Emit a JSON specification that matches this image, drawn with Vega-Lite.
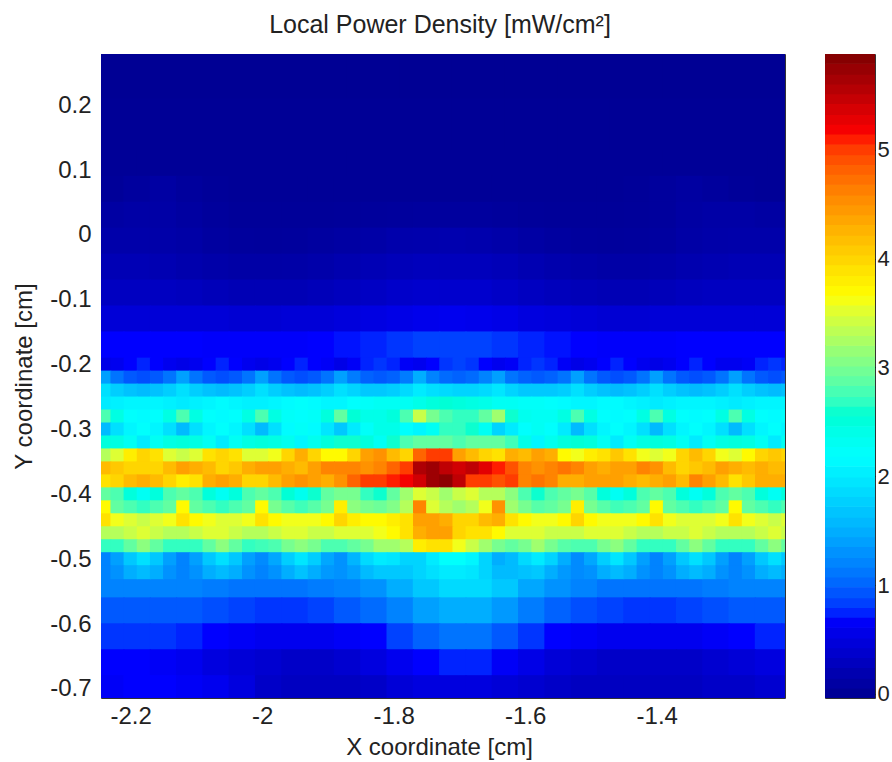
{"$schema":"https://vega.github.io/schema/vega-lite/v6.json","background":"white","padding":{"left":12,"top":12,"right":0,"bottom":0},"spacing":38,
"config":{"view":{"stroke":"#333333","strokeWidth":1},"font":"Liberation Sans","axis":{"grid":false,"domain":false,"labelFont":"Liberation Sans","titleFont":"Liberation Sans","labelFontSize":24,"titleFontSize":24,"titleFontWeight":"normal","labelColor":"#222222","titleColor":"#222222"}},
"datasets":{
"top":[{"x":-2.21,"y":0.25,"v":0},{"x":-2.13,"y":0.25,"v":0},{"x":-2.05,"y":0.25,"v":0},{"x":-1.97,"y":0.25,"v":0},{"x":-1.89,"y":0.25,"v":0},{"x":-1.81,"y":0.25,"v":0},{"x":-1.73,"y":0.25,"v":0},{"x":-1.65,"y":0.25,"v":0},{"x":-1.57,"y":0.25,"v":0},{"x":-1.49,"y":0.25,"v":0},{"x":-1.41,"y":0.25,"v":0},{"x":-1.33,"y":0.25,"v":0},{"x":-1.25,"y":0.25,"v":0},{"x":-1.17,"y":0.25,"v":0},
{"x":-2.21,"y":0.17,"v":0.01},{"x":-2.13,"y":0.17,"v":0.01},{"x":-2.05,"y":0.17,"v":0.01},{"x":-1.97,"y":0.17,"v":0.01},{"x":-1.89,"y":0.17,"v":0.01},{"x":-1.81,"y":0.17,"v":0.01},{"x":-1.73,"y":0.17,"v":0.01},{"x":-1.65,"y":0.17,"v":0.01},{"x":-1.57,"y":0.17,"v":0.01},{"x":-1.49,"y":0.17,"v":0.01},{"x":-1.41,"y":0.17,"v":0.01},{"x":-1.33,"y":0.17,"v":0.01},{"x":-1.25,"y":0.17,"v":0.01},{"x":-1.17,"y":0.17,"v":0.01},
{"x":-2.21,"y":0.09,"v":0.02},{"x":-2.13,"y":0.09,"v":0.02},{"x":-2.05,"y":0.09,"v":0.02},{"x":-1.97,"y":0.09,"v":0.02},{"x":-1.89,"y":0.09,"v":0.02},{"x":-1.81,"y":0.09,"v":0.02},{"x":-1.73,"y":0.09,"v":0.02},{"x":-1.65,"y":0.09,"v":0.02},{"x":-1.57,"y":0.09,"v":0.02},{"x":-1.49,"y":0.09,"v":0.02},{"x":-1.41,"y":0.09,"v":0.02},{"x":-1.33,"y":0.09,"v":0.02},{"x":-1.25,"y":0.09,"v":0.02},{"x":-1.17,"y":0.09,"v":0.02}],
"mid":[
{"x":-2.23,"y":0.07,"v":0.03},{"x":-2.19,"y":0.07,"v":0.07},{"x":-2.15,"y":0.07,"v":0.1},{"x":-2.11,"y":0.07,"v":0.06},{"x":-2.07,"y":0.07,"v":0.03},{"x":-2.03,"y":0.07,"v":0.02},{"x":-1.99,"y":0.07,"v":0.02},{"x":-1.95,"y":0.07,"v":0.02},{"x":-1.91,"y":0.07,"v":0.02},{"x":-1.87,"y":0.07,"v":0.02},{"x":-1.83,"y":0.07,"v":0.02},{"x":-1.79,"y":0.07,"v":0.02},{"x":-1.75,"y":0.07,"v":0.02},{"x":-1.71,"y":0.07,"v":0.02},{"x":-1.67,"y":0.07,"v":0.02},{"x":-1.63,"y":0.07,"v":0.02},{"x":-1.59,"y":0.07,"v":0.02},{"x":-1.55,"y":0.07,"v":0.02},{"x":-1.51,"y":0.07,"v":0.02},{"x":-1.47,"y":0.07,"v":0.02},{"x":-1.43,"y":0.07,"v":0.03},{"x":-1.39,"y":0.07,"v":0.06},{"x":-1.35,"y":0.07,"v":0.09},{"x":-1.31,"y":0.07,"v":0.06},{"x":-1.27,"y":0.07,"v":0.03},{"x":-1.23,"y":0.07,"v":0.02},{"x":-1.19,"y":0.07,"v":0.02},
{"x":-2.23,"y":0.03,"v":0.1},{"x":-2.19,"y":0.03,"v":0.12},{"x":-2.15,"y":0.03,"v":0.12},{"x":-2.11,"y":0.03,"v":0.09},{"x":-2.07,"y":0.03,"v":0.05},{"x":-2.03,"y":0.03,"v":0.03},{"x":-1.99,"y":0.03,"v":0.03},{"x":-1.95,"y":0.03,"v":0.03},{"x":-1.91,"y":0.03,"v":0.03},{"x":-1.87,"y":0.03,"v":0.04},{"x":-1.83,"y":0.03,"v":0.05},{"x":-1.79,"y":0.03,"v":0.06},{"x":-1.75,"y":0.03,"v":0.07},{"x":-1.71,"y":0.03,"v":0.07},{"x":-1.67,"y":0.03,"v":0.07},{"x":-1.63,"y":0.03,"v":0.05},{"x":-1.59,"y":0.03,"v":0.04},{"x":-1.55,"y":0.03,"v":0.03},{"x":-1.51,"y":0.03,"v":0.03},{"x":-1.47,"y":0.03,"v":0.03},{"x":-1.43,"y":0.03,"v":0.04},{"x":-1.39,"y":0.03,"v":0.06},{"x":-1.35,"y":0.03,"v":0.1},{"x":-1.31,"y":0.03,"v":0.12},{"x":-1.27,"y":0.03,"v":0.12},{"x":-1.23,"y":0.03,"v":0.1},{"x":-1.19,"y":0.03,"v":0.09},
{"x":-2.23,"y":-0.01,"v":0.15},{"x":-2.19,"y":-0.01,"v":0.15},{"x":-2.15,"y":-0.01,"v":0.14},{"x":-2.11,"y":-0.01,"v":0.12},{"x":-2.07,"y":-0.01,"v":0.08},{"x":-2.03,"y":-0.01,"v":0.06},{"x":-1.99,"y":-0.01,"v":0.05},{"x":-1.95,"y":-0.01,"v":0.06},{"x":-1.91,"y":-0.01,"v":0.08},{"x":-1.87,"y":-0.01,"v":0.1},{"x":-1.83,"y":-0.01,"v":0.13},{"x":-1.79,"y":-0.01,"v":0.16},{"x":-1.75,"y":-0.01,"v":0.17},{"x":-1.71,"y":-0.01,"v":0.18},{"x":-1.67,"y":-0.01,"v":0.17},{"x":-1.63,"y":-0.01,"v":0.14},{"x":-1.59,"y":-0.01,"v":0.11},{"x":-1.55,"y":-0.01,"v":0.08},{"x":-1.51,"y":-0.01,"v":0.06},{"x":-1.47,"y":-0.01,"v":0.05},{"x":-1.43,"y":-0.01,"v":0.06},{"x":-1.39,"y":-0.01,"v":0.08},{"x":-1.35,"y":-0.01,"v":0.12},{"x":-1.31,"y":-0.01,"v":0.14},{"x":-1.27,"y":-0.01,"v":0.15},{"x":-1.23,"y":-0.01,"v":0.15},{"x":-1.19,"y":-0.01,"v":0.15},
{"x":-2.23,"y":-0.05,"v":0.22},{"x":-2.19,"y":-0.05,"v":0.22},{"x":-2.15,"y":-0.05,"v":0.2},{"x":-2.11,"y":-0.05,"v":0.17},{"x":-2.07,"y":-0.05,"v":0.14},{"x":-2.03,"y":-0.05,"v":0.12},{"x":-1.99,"y":-0.05,"v":0.12},{"x":-1.95,"y":-0.05,"v":0.13},{"x":-1.91,"y":-0.05,"v":0.15},{"x":-1.87,"y":-0.05,"v":0.18},{"x":-1.83,"y":-0.05,"v":0.22},{"x":-1.79,"y":-0.05,"v":0.25},{"x":-1.75,"y":-0.05,"v":0.27},{"x":-1.71,"y":-0.05,"v":0.27},{"x":-1.67,"y":-0.05,"v":0.27},{"x":-1.63,"y":-0.05,"v":0.24},{"x":-1.59,"y":-0.05,"v":0.2},{"x":-1.55,"y":-0.05,"v":0.17},{"x":-1.51,"y":-0.05,"v":0.14},{"x":-1.47,"y":-0.05,"v":0.12},{"x":-1.43,"y":-0.05,"v":0.12},{"x":-1.39,"y":-0.05,"v":0.15},{"x":-1.35,"y":-0.05,"v":0.18},{"x":-1.31,"y":-0.05,"v":0.2},{"x":-1.27,"y":-0.05,"v":0.22},{"x":-1.23,"y":-0.05,"v":0.22},{"x":-1.19,"y":-0.05,"v":0.22},
{"x":-2.23,"y":-0.09,"v":0.3},{"x":-2.19,"y":-0.09,"v":0.3},{"x":-2.15,"y":-0.09,"v":0.3},{"x":-2.11,"y":-0.09,"v":0.28},{"x":-2.07,"y":-0.09,"v":0.25},{"x":-2.03,"y":-0.09,"v":0.22},{"x":-1.99,"y":-0.09,"v":0.22},{"x":-1.95,"y":-0.09,"v":0.22},{"x":-1.91,"y":-0.09,"v":0.25},{"x":-1.87,"y":-0.09,"v":0.28},{"x":-1.83,"y":-0.09,"v":0.32},{"x":-1.79,"y":-0.09,"v":0.36},{"x":-1.75,"y":-0.09,"v":0.38},{"x":-1.71,"y":-0.09,"v":0.38},{"x":-1.67,"y":-0.09,"v":0.38},{"x":-1.63,"y":-0.09,"v":0.34},{"x":-1.59,"y":-0.09,"v":0.3},{"x":-1.55,"y":-0.09,"v":0.27},{"x":-1.51,"y":-0.09,"v":0.24},{"x":-1.47,"y":-0.09,"v":0.22},{"x":-1.43,"y":-0.09,"v":0.22},{"x":-1.39,"y":-0.09,"v":0.25},{"x":-1.35,"y":-0.09,"v":0.28},{"x":-1.31,"y":-0.09,"v":0.3},{"x":-1.27,"y":-0.09,"v":0.3},{"x":-1.23,"y":-0.09,"v":0.3},{"x":-1.19,"y":-0.09,"v":0.3},
{"x":-2.23,"y":-0.13,"v":0.45},{"x":-2.19,"y":-0.13,"v":0.45},{"x":-2.15,"y":-0.13,"v":0.45},{"x":-2.11,"y":-0.13,"v":0.45},{"x":-2.07,"y":-0.13,"v":0.45},{"x":-2.03,"y":-0.13,"v":0.42},{"x":-1.99,"y":-0.13,"v":0.42},{"x":-1.95,"y":-0.13,"v":0.45},{"x":-1.91,"y":-0.13,"v":0.45},{"x":-1.87,"y":-0.13,"v":0.48},{"x":-1.83,"y":-0.13,"v":0.52},{"x":-1.79,"y":-0.13,"v":0.55},{"x":-1.75,"y":-0.13,"v":0.58},{"x":-1.71,"y":-0.13,"v":0.6},{"x":-1.67,"y":-0.13,"v":0.58},{"x":-1.63,"y":-0.13,"v":0.55},{"x":-1.59,"y":-0.13,"v":0.5},{"x":-1.55,"y":-0.13,"v":0.48},{"x":-1.51,"y":-0.13,"v":0.45},{"x":-1.47,"y":-0.13,"v":0.42},{"x":-1.43,"y":-0.13,"v":0.42},{"x":-1.39,"y":-0.13,"v":0.45},{"x":-1.35,"y":-0.13,"v":0.45},{"x":-1.31,"y":-0.13,"v":0.45},{"x":-1.27,"y":-0.13,"v":0.45},{"x":-1.23,"y":-0.13,"v":0.45},{"x":-1.19,"y":-0.13,"v":0.45},
{"x":-2.23,"y":-0.17,"v":0.7},{"x":-2.19,"y":-0.17,"v":0.7},{"x":-2.15,"y":-0.17,"v":0.7},{"x":-2.11,"y":-0.17,"v":0.7},{"x":-2.07,"y":-0.17,"v":0.68},{"x":-2.03,"y":-0.17,"v":0.68},{"x":-1.99,"y":-0.17,"v":0.68},{"x":-1.95,"y":-0.17,"v":0.68},{"x":-1.91,"y":-0.17,"v":0.7},{"x":-1.87,"y":-0.17,"v":0.72},{"x":-1.83,"y":-0.17,"v":0.75},{"x":-1.79,"y":-0.17,"v":0.8},{"x":-1.75,"y":-0.17,"v":0.85},{"x":-1.71,"y":-0.17,"v":0.85},{"x":-1.67,"y":-0.17,"v":0.85},{"x":-1.63,"y":-0.17,"v":0.8},{"x":-1.59,"y":-0.17,"v":0.75},{"x":-1.55,"y":-0.17,"v":0.72},{"x":-1.51,"y":-0.17,"v":0.7},{"x":-1.47,"y":-0.17,"v":0.68},{"x":-1.43,"y":-0.17,"v":0.68},{"x":-1.39,"y":-0.17,"v":0.68},{"x":-1.35,"y":-0.17,"v":0.7},{"x":-1.31,"y":-0.17,"v":0.7},{"x":-1.27,"y":-0.17,"v":0.7},{"x":-1.23,"y":-0.17,"v":0.7},{"x":-1.19,"y":-0.17,"v":0.7},
{"x":-2.23,"y":-0.54,"v":1.2},{"x":-2.19,"y":-0.54,"v":1.2},{"x":-2.15,"y":-0.54,"v":1.2},{"x":-2.11,"y":-0.54,"v":1.2},{"x":-2.07,"y":-0.54,"v":1.15},{"x":-2.03,"y":-0.54,"v":1.1},{"x":-1.99,"y":-0.54,"v":1.1},{"x":-1.95,"y":-0.54,"v":1.1},{"x":-1.91,"y":-0.54,"v":1.15},{"x":-1.87,"y":-0.54,"v":1.2},{"x":-1.83,"y":-0.54,"v":1.3},{"x":-1.79,"y":-0.54,"v":1.5},{"x":-1.75,"y":-0.54,"v":1.7},{"x":-1.71,"y":-0.54,"v":1.85},{"x":-1.67,"y":-0.54,"v":1.85},{"x":-1.63,"y":-0.54,"v":1.7},{"x":-1.59,"y":-0.54,"v":1.45},{"x":-1.55,"y":-0.54,"v":1.3},{"x":-1.51,"y":-0.54,"v":1.2},{"x":-1.47,"y":-0.54,"v":1.1},{"x":-1.43,"y":-0.54,"v":1.1},{"x":-1.39,"y":-0.54,"v":1.1},{"x":-1.35,"y":-0.54,"v":1.1},{"x":-1.31,"y":-0.54,"v":1.15},{"x":-1.27,"y":-0.54,"v":1.2},{"x":-1.23,"y":-0.54,"v":1.2},{"x":-1.19,"y":-0.54,"v":1.2},
{"x":-2.23,"y":-0.58,"v":0.95},{"x":-2.19,"y":-0.58,"v":0.95},{"x":-2.15,"y":-0.58,"v":0.95},{"x":-2.11,"y":-0.58,"v":0.95},{"x":-2.07,"y":-0.58,"v":0.9},{"x":-2.03,"y":-0.58,"v":0.85},{"x":-1.99,"y":-0.58,"v":0.8},{"x":-1.95,"y":-0.58,"v":0.8},{"x":-1.91,"y":-0.58,"v":0.85},{"x":-1.87,"y":-0.58,"v":0.95},{"x":-1.83,"y":-0.58,"v":1.05},{"x":-1.79,"y":-0.58,"v":1.2},{"x":-1.75,"y":-0.58,"v":1.4},{"x":-1.71,"y":-0.58,"v":1.5},{"x":-1.67,"y":-0.58,"v":1.5},{"x":-1.63,"y":-0.58,"v":1.35},{"x":-1.59,"y":-0.58,"v":1.15},{"x":-1.55,"y":-0.58,"v":1},{"x":-1.51,"y":-0.58,"v":0.9},{"x":-1.47,"y":-0.58,"v":0.85},{"x":-1.43,"y":-0.58,"v":0.8},{"x":-1.39,"y":-0.58,"v":0.8},{"x":-1.35,"y":-0.58,"v":0.85},{"x":-1.31,"y":-0.58,"v":0.9},{"x":-1.27,"y":-0.58,"v":0.95},{"x":-1.23,"y":-0.58,"v":0.95},{"x":-1.19,"y":-0.58,"v":0.95},
{"x":-2.23,"y":-0.62,"v":0.8},{"x":-2.19,"y":-0.62,"v":0.8},{"x":-2.15,"y":-0.62,"v":0.8},{"x":-2.11,"y":-0.62,"v":0.75},{"x":-2.07,"y":-0.62,"v":0.7},{"x":-2.03,"y":-0.62,"v":0.65},{"x":-1.99,"y":-0.62,"v":0.6},{"x":-1.95,"y":-0.62,"v":0.6},{"x":-1.91,"y":-0.62,"v":0.6},{"x":-1.87,"y":-0.62,"v":0.65},{"x":-1.83,"y":-0.62,"v":0.7},{"x":-1.79,"y":-0.62,"v":0.85},{"x":-1.75,"y":-0.62,"v":1},{"x":-1.71,"y":-0.62,"v":1.1},{"x":-1.67,"y":-0.62,"v":1.1},{"x":-1.63,"y":-0.62,"v":0.95},{"x":-1.59,"y":-0.62,"v":0.8},{"x":-1.55,"y":-0.62,"v":0.7},{"x":-1.51,"y":-0.62,"v":0.65},{"x":-1.47,"y":-0.62,"v":0.6},{"x":-1.43,"y":-0.62,"v":0.6},{"x":-1.39,"y":-0.62,"v":0.6},{"x":-1.35,"y":-0.62,"v":0.6},{"x":-1.31,"y":-0.62,"v":0.65},{"x":-1.27,"y":-0.62,"v":0.7},{"x":-1.23,"y":-0.62,"v":0.75},{"x":-1.19,"y":-0.62,"v":0.75},
{"x":-2.23,"y":-0.66,"v":0.7},{"x":-2.19,"y":-0.66,"v":0.7},{"x":-2.15,"y":-0.66,"v":0.65},{"x":-2.11,"y":-0.66,"v":0.6},{"x":-2.07,"y":-0.66,"v":0.5},{"x":-2.03,"y":-0.66,"v":0.45},{"x":-1.99,"y":-0.66,"v":0.4},{"x":-1.95,"y":-0.66,"v":0.35},{"x":-1.91,"y":-0.66,"v":0.35},{"x":-1.87,"y":-0.66,"v":0.4},{"x":-1.83,"y":-0.66,"v":0.5},{"x":-1.79,"y":-0.66,"v":0.6},{"x":-1.75,"y":-0.66,"v":0.7},{"x":-1.71,"y":-0.66,"v":0.75},{"x":-1.67,"y":-0.66,"v":0.75},{"x":-1.63,"y":-0.66,"v":0.65},{"x":-1.59,"y":-0.66,"v":0.55},{"x":-1.55,"y":-0.66,"v":0.45},{"x":-1.51,"y":-0.66,"v":0.4},{"x":-1.47,"y":-0.66,"v":0.35},{"x":-1.43,"y":-0.66,"v":0.35},{"x":-1.39,"y":-0.66,"v":0.35},{"x":-1.35,"y":-0.66,"v":0.35},{"x":-1.31,"y":-0.66,"v":0.4},{"x":-1.27,"y":-0.66,"v":0.45},{"x":-1.23,"y":-0.66,"v":0.5},{"x":-1.19,"y":-0.66,"v":0.55},
{"x":-2.23,"y":-0.7,"v":0.65},{"x":-2.19,"y":-0.7,"v":0.7},{"x":-2.15,"y":-0.7,"v":0.7},{"x":-2.11,"y":-0.7,"v":0.65},{"x":-2.07,"y":-0.7,"v":0.6},{"x":-2.03,"y":-0.7,"v":0.5},{"x":-1.99,"y":-0.7,"v":0.35},{"x":-1.95,"y":-0.7,"v":0.3},{"x":-1.91,"y":-0.7,"v":0.3},{"x":-1.87,"y":-0.7,"v":0.3},{"x":-1.83,"y":-0.7,"v":0.35},{"x":-1.79,"y":-0.7,"v":0.45},{"x":-1.75,"y":-0.7,"v":0.5},{"x":-1.71,"y":-0.7,"v":0.5},{"x":-1.67,"y":-0.7,"v":0.5},{"x":-1.63,"y":-0.7,"v":0.45},{"x":-1.59,"y":-0.7,"v":0.4},{"x":-1.55,"y":-0.7,"v":0.35},{"x":-1.51,"y":-0.7,"v":0.3},{"x":-1.47,"y":-0.7,"v":0.3},{"x":-1.43,"y":-0.7,"v":0.3},{"x":-1.39,"y":-0.7,"v":0.3},{"x":-1.35,"y":-0.7,"v":0.3},{"x":-1.31,"y":-0.7,"v":0.35},{"x":-1.27,"y":-0.7,"v":0.35},{"x":-1.23,"y":-0.7,"v":0.4},{"x":-1.19,"y":-0.7,"v":0.45}],
"band":[
{"x":-2.24,"y":-0.2,"v":0.55},{"x":-2.22,"y":-0.2,"v":0.6},{"x":-2.2,"y":-0.2,"v":0.7},{"x":-2.18,"y":-0.2,"v":0.75},{"x":-2.16,"y":-0.2,"v":0.7},{"x":-2.14,"y":-0.2,"v":0.6},{"x":-2.12,"y":-0.2,"v":0.55},{"x":-2.1,"y":-0.2,"v":0.6},{"x":-2.08,"y":-0.2,"v":0.7},{"x":-2.06,"y":-0.2,"v":0.75},{"x":-2.04,"y":-0.2,"v":0.7},{"x":-2.02,"y":-0.2,"v":0.6},{"x":-2,"y":-0.2,"v":0.55},{"x":-1.98,"y":-0.2,"v":0.6},{"x":-1.96,"y":-0.2,"v":0.7},{"x":-1.94,"y":-0.2,"v":0.75},{"x":-1.92,"y":-0.2,"v":0.7},{"x":-1.9,"y":-0.2,"v":0.65},{"x":-1.88,"y":-0.2,"v":0.55},{"x":-1.86,"y":-0.2,"v":0.65},{"x":-1.84,"y":-0.2,"v":0.75},{"x":-1.82,"y":-0.2,"v":0.8},{"x":-1.8,"y":-0.2,"v":0.75},{"x":-1.78,"y":-0.2,"v":0.65},{"x":-1.76,"y":-0.2,"v":0.6},{"x":-1.74,"y":-0.2,"v":0.7},{"x":-1.72,"y":-0.2,"v":0.8},{"x":-1.7,"y":-0.2,"v":0.85},{"x":-1.68,"y":-0.2,"v":0.8},{"x":-1.66,"y":-0.2,"v":0.7},{"x":-1.64,"y":-0.2,"v":0.6},{"x":-1.62,"y":-0.2,"v":0.65},{"x":-1.6,"y":-0.2,"v":0.75},{"x":-1.58,"y":-0.2,"v":0.8},{"x":-1.56,"y":-0.2,"v":0.75},{"x":-1.54,"y":-0.2,"v":0.65},{"x":-1.52,"y":-0.2,"v":0.55},{"x":-1.5,"y":-0.2,"v":0.6},{"x":-1.48,"y":-0.2,"v":0.7},{"x":-1.46,"y":-0.2,"v":0.75},{"x":-1.44,"y":-0.2,"v":0.7},{"x":-1.42,"y":-0.2,"v":0.6},{"x":-1.4,"y":-0.2,"v":0.55},{"x":-1.38,"y":-0.2,"v":0.6},{"x":-1.36,"y":-0.2,"v":0.7},{"x":-1.34,"y":-0.2,"v":0.75},{"x":-1.32,"y":-0.2,"v":0.7},{"x":-1.3,"y":-0.2,"v":0.6},{"x":-1.28,"y":-0.2,"v":0.6},{"x":-1.26,"y":-0.2,"v":0.65},{"x":-1.24,"y":-0.2,"v":0.75},{"x":-1.22,"y":-0.2,"v":0.8},{"x":-1.2,"y":-0.2,"v":0.75},
{"x":-2.24,"y":-0.22,"v":1.4},{"x":-2.22,"y":-0.22,"v":1.1},{"x":-2.2,"y":-0.22,"v":0.95},{"x":-2.18,"y":-0.22,"v":0.9},{"x":-2.16,"y":-0.22,"v":0.95},{"x":-2.14,"y":-0.22,"v":1.1},{"x":-2.12,"y":-0.22,"v":1.4},{"x":-2.1,"y":-0.22,"v":1.1},{"x":-2.08,"y":-0.22,"v":0.95},{"x":-2.06,"y":-0.22,"v":0.9},{"x":-2.04,"y":-0.22,"v":0.95},{"x":-2.02,"y":-0.22,"v":1.1},{"x":-2,"y":-0.22,"v":1.4},{"x":-1.98,"y":-0.22,"v":1.1},{"x":-1.96,"y":-0.22,"v":0.95},{"x":-1.94,"y":-0.22,"v":0.9},{"x":-1.92,"y":-0.22,"v":0.95},{"x":-1.9,"y":-0.22,"v":1.1},{"x":-1.88,"y":-0.22,"v":1.4},{"x":-1.86,"y":-0.22,"v":1.15},{"x":-1.84,"y":-0.22,"v":1},{"x":-1.82,"y":-0.22,"v":0.95},{"x":-1.8,"y":-0.22,"v":1},{"x":-1.78,"y":-0.22,"v":1.15},{"x":-1.76,"y":-0.22,"v":1.5},{"x":-1.74,"y":-0.22,"v":1.2},{"x":-1.72,"y":-0.22,"v":1.05},{"x":-1.7,"y":-0.22,"v":1},{"x":-1.68,"y":-0.22,"v":1.05},{"x":-1.66,"y":-0.22,"v":1.2},{"x":-1.64,"y":-0.22,"v":1.4},{"x":-1.62,"y":-0.22,"v":1.1},{"x":-1.6,"y":-0.22,"v":1},{"x":-1.58,"y":-0.22,"v":0.95},{"x":-1.56,"y":-0.22,"v":1},{"x":-1.54,"y":-0.22,"v":1.1},{"x":-1.52,"y":-0.22,"v":1.4},{"x":-1.5,"y":-0.22,"v":1.1},{"x":-1.48,"y":-0.22,"v":0.95},{"x":-1.46,"y":-0.22,"v":0.9},{"x":-1.44,"y":-0.22,"v":0.95},{"x":-1.42,"y":-0.22,"v":1.1},{"x":-1.4,"y":-0.22,"v":1.4},{"x":-1.38,"y":-0.22,"v":1.1},{"x":-1.36,"y":-0.22,"v":0.95},{"x":-1.34,"y":-0.22,"v":0.9},{"x":-1.32,"y":-0.22,"v":0.95},{"x":-1.3,"y":-0.22,"v":1.1},{"x":-1.28,"y":-0.22,"v":1.4},{"x":-1.26,"y":-0.22,"v":1.1},{"x":-1.24,"y":-0.22,"v":0.95},{"x":-1.22,"y":-0.22,"v":0.9},{"x":-1.2,"y":-0.22,"v":0.95},
{"x":-2.24,"y":-0.24,"v":1.9},{"x":-2.22,"y":-0.24,"v":1.75},{"x":-2.2,"y":-0.24,"v":1.65},{"x":-2.18,"y":-0.24,"v":1.6},{"x":-2.16,"y":-0.24,"v":1.65},{"x":-2.14,"y":-0.24,"v":1.75},{"x":-2.12,"y":-0.24,"v":1.9},{"x":-2.1,"y":-0.24,"v":1.75},{"x":-2.08,"y":-0.24,"v":1.65},{"x":-2.06,"y":-0.24,"v":1.6},{"x":-2.04,"y":-0.24,"v":1.65},{"x":-2.02,"y":-0.24,"v":1.75},{"x":-2,"y":-0.24,"v":1.9},{"x":-1.98,"y":-0.24,"v":1.75},{"x":-1.96,"y":-0.24,"v":1.65},{"x":-1.94,"y":-0.24,"v":1.6},{"x":-1.92,"y":-0.24,"v":1.65},{"x":-1.9,"y":-0.24,"v":1.75},{"x":-1.88,"y":-0.24,"v":1.9},{"x":-1.86,"y":-0.24,"v":1.8},{"x":-1.84,"y":-0.24,"v":1.7},{"x":-1.82,"y":-0.24,"v":1.7},{"x":-1.8,"y":-0.24,"v":1.75},{"x":-1.78,"y":-0.24,"v":1.85},{"x":-1.76,"y":-0.24,"v":2},{"x":-1.74,"y":-0.24,"v":1.9},{"x":-1.72,"y":-0.24,"v":1.85},{"x":-1.7,"y":-0.24,"v":1.8},{"x":-1.68,"y":-0.24,"v":1.8},{"x":-1.66,"y":-0.24,"v":1.85},{"x":-1.64,"y":-0.24,"v":1.95},{"x":-1.62,"y":-0.24,"v":1.8},{"x":-1.6,"y":-0.24,"v":1.7},{"x":-1.58,"y":-0.24,"v":1.7},{"x":-1.56,"y":-0.24,"v":1.7},{"x":-1.54,"y":-0.24,"v":1.75},{"x":-1.52,"y":-0.24,"v":1.9},{"x":-1.5,"y":-0.24,"v":1.75},{"x":-1.48,"y":-0.24,"v":1.65},{"x":-1.46,"y":-0.24,"v":1.6},{"x":-1.44,"y":-0.24,"v":1.65},{"x":-1.42,"y":-0.24,"v":1.75},{"x":-1.4,"y":-0.24,"v":1.9},{"x":-1.38,"y":-0.24,"v":1.75},{"x":-1.36,"y":-0.24,"v":1.65},{"x":-1.34,"y":-0.24,"v":1.6},{"x":-1.32,"y":-0.24,"v":1.65},{"x":-1.3,"y":-0.24,"v":1.75},{"x":-1.28,"y":-0.24,"v":1.9},{"x":-1.26,"y":-0.24,"v":1.75},{"x":-1.24,"y":-0.24,"v":1.65},{"x":-1.22,"y":-0.24,"v":1.6},{"x":-1.2,"y":-0.24,"v":1.65},
{"x":-2.24,"y":-0.26,"v":2},{"x":-2.22,"y":-0.26,"v":2.05},{"x":-2.2,"y":-0.26,"v":2.1},{"x":-2.18,"y":-0.26,"v":2.1},{"x":-2.16,"y":-0.26,"v":2.1},{"x":-2.14,"y":-0.26,"v":2.05},{"x":-2.12,"y":-0.26,"v":2},{"x":-2.1,"y":-0.26,"v":2.05},{"x":-2.08,"y":-0.26,"v":2.1},{"x":-2.06,"y":-0.26,"v":2.15},{"x":-2.04,"y":-0.26,"v":2.1},{"x":-2.02,"y":-0.26,"v":2.05},{"x":-2,"y":-0.26,"v":2.05},{"x":-1.98,"y":-0.26,"v":2.1},{"x":-1.96,"y":-0.26,"v":2.15},{"x":-1.94,"y":-0.26,"v":2.2},{"x":-1.92,"y":-0.26,"v":2.15},{"x":-1.9,"y":-0.26,"v":2.1},{"x":-1.88,"y":-0.26,"v":2.1},{"x":-1.86,"y":-0.26,"v":2.2},{"x":-1.84,"y":-0.26,"v":2.25},{"x":-1.82,"y":-0.26,"v":2.3},{"x":-1.8,"y":-0.26,"v":2.3},{"x":-1.78,"y":-0.26,"v":2.3},{"x":-1.76,"y":-0.26,"v":2.4},{"x":-1.74,"y":-0.26,"v":2.5},{"x":-1.72,"y":-0.26,"v":2.55},{"x":-1.7,"y":-0.26,"v":2.5},{"x":-1.68,"y":-0.26,"v":2.45},{"x":-1.66,"y":-0.26,"v":2.4},{"x":-1.64,"y":-0.26,"v":2.3},{"x":-1.62,"y":-0.26,"v":2.3},{"x":-1.6,"y":-0.26,"v":2.25},{"x":-1.58,"y":-0.26,"v":2.25},{"x":-1.56,"y":-0.26,"v":2.2},{"x":-1.54,"y":-0.26,"v":2.15},{"x":-1.52,"y":-0.26,"v":2.1},{"x":-1.5,"y":-0.26,"v":2.1},{"x":-1.48,"y":-0.26,"v":2.15},{"x":-1.46,"y":-0.26,"v":2.15},{"x":-1.44,"y":-0.26,"v":2.1},{"x":-1.42,"y":-0.26,"v":2.05},{"x":-1.4,"y":-0.26,"v":2},{"x":-1.38,"y":-0.26,"v":2.05},{"x":-1.36,"y":-0.26,"v":2.1},{"x":-1.34,"y":-0.26,"v":2.1},{"x":-1.32,"y":-0.26,"v":2.1},{"x":-1.3,"y":-0.26,"v":2.05},{"x":-1.28,"y":-0.26,"v":2},{"x":-1.26,"y":-0.26,"v":2.05},{"x":-1.24,"y":-0.26,"v":2.1},{"x":-1.22,"y":-0.26,"v":2.1},{"x":-1.2,"y":-0.26,"v":2.1},
{"x":-2.24,"y":-0.28,"v":2.8},{"x":-2.22,"y":-0.28,"v":2.45},{"x":-2.2,"y":-0.28,"v":2.2},{"x":-2.18,"y":-0.28,"v":2.15},{"x":-2.16,"y":-0.28,"v":2.2},{"x":-2.14,"y":-0.28,"v":2.45},{"x":-2.12,"y":-0.28,"v":2.8},{"x":-2.1,"y":-0.28,"v":2.45},{"x":-2.08,"y":-0.28,"v":2.2},{"x":-2.06,"y":-0.28,"v":2.15},{"x":-2.04,"y":-0.28,"v":2.2},{"x":-2.02,"y":-0.28,"v":2.45},{"x":-2,"y":-0.28,"v":2.8},{"x":-1.98,"y":-0.28,"v":2.45},{"x":-1.96,"y":-0.28,"v":2.25},{"x":-1.94,"y":-0.28,"v":2.2},{"x":-1.92,"y":-0.28,"v":2.25},{"x":-1.9,"y":-0.28,"v":2.5},{"x":-1.88,"y":-0.28,"v":2.9},{"x":-1.86,"y":-0.28,"v":2.55},{"x":-1.84,"y":-0.28,"v":2.4},{"x":-1.82,"y":-0.28,"v":2.4},{"x":-1.8,"y":-0.28,"v":2.5},{"x":-1.78,"y":-0.28,"v":2.8},{"x":-1.76,"y":-0.28,"v":3.4},{"x":-1.74,"y":-0.28,"v":3},{"x":-1.72,"y":-0.28,"v":2.8},{"x":-1.7,"y":-0.28,"v":2.7},{"x":-1.68,"y":-0.28,"v":2.7},{"x":-1.66,"y":-0.28,"v":2.9},{"x":-1.64,"y":-0.28,"v":3.2},{"x":-1.62,"y":-0.28,"v":2.6},{"x":-1.6,"y":-0.28,"v":2.35},{"x":-1.58,"y":-0.28,"v":2.3},{"x":-1.56,"y":-0.28,"v":2.3},{"x":-1.54,"y":-0.28,"v":2.45},{"x":-1.52,"y":-0.28,"v":2.8},{"x":-1.5,"y":-0.28,"v":2.45},{"x":-1.48,"y":-0.28,"v":2.2},{"x":-1.46,"y":-0.28,"v":2.15},{"x":-1.44,"y":-0.28,"v":2.2},{"x":-1.42,"y":-0.28,"v":2.45},{"x":-1.4,"y":-0.28,"v":2.8},{"x":-1.38,"y":-0.28,"v":2.45},{"x":-1.36,"y":-0.28,"v":2.2},{"x":-1.34,"y":-0.28,"v":2.15},{"x":-1.32,"y":-0.28,"v":2.2},{"x":-1.3,"y":-0.28,"v":2.45},{"x":-1.28,"y":-0.28,"v":2.8},{"x":-1.26,"y":-0.28,"v":2.45},{"x":-1.24,"y":-0.28,"v":2.2},{"x":-1.22,"y":-0.28,"v":2.15},{"x":-1.2,"y":-0.28,"v":2.2},
{"x":-2.24,"y":-0.3,"v":1.6},{"x":-2.22,"y":-0.3,"v":1.9},{"x":-2.2,"y":-0.3,"v":2.1},{"x":-2.18,"y":-0.3,"v":2.2},{"x":-2.16,"y":-0.3,"v":2.1},{"x":-2.14,"y":-0.3,"v":1.9},{"x":-2.12,"y":-0.3,"v":1.6},{"x":-2.1,"y":-0.3,"v":1.9},{"x":-2.08,"y":-0.3,"v":2.1},{"x":-2.06,"y":-0.3,"v":2.2},{"x":-2.04,"y":-0.3,"v":2.1},{"x":-2.02,"y":-0.3,"v":1.9},{"x":-2,"y":-0.3,"v":1.6},{"x":-1.98,"y":-0.3,"v":1.9},{"x":-1.96,"y":-0.3,"v":2.15},{"x":-1.94,"y":-0.3,"v":2.25},{"x":-1.92,"y":-0.3,"v":2.15},{"x":-1.9,"y":-0.3,"v":1.95},{"x":-1.88,"y":-0.3,"v":1.7},{"x":-1.86,"y":-0.3,"v":2},{"x":-1.84,"y":-0.3,"v":2.25},{"x":-1.82,"y":-0.3,"v":2.4},{"x":-1.8,"y":-0.3,"v":2.4},{"x":-1.78,"y":-0.3,"v":2.2},{"x":-1.76,"y":-0.3,"v":2.1},{"x":-1.74,"y":-0.3,"v":2.3},{"x":-1.72,"y":-0.3,"v":2.7},{"x":-1.7,"y":-0.3,"v":2.7},{"x":-1.68,"y":-0.3,"v":2.6},{"x":-1.66,"y":-0.3,"v":2.3},{"x":-1.64,"y":-0.3,"v":1.8},{"x":-1.62,"y":-0.3,"v":2},{"x":-1.6,"y":-0.3,"v":2.2},{"x":-1.58,"y":-0.3,"v":2.3},{"x":-1.56,"y":-0.3,"v":2.2},{"x":-1.54,"y":-0.3,"v":2},{"x":-1.52,"y":-0.3,"v":1.6},{"x":-1.5,"y":-0.3,"v":1.9},{"x":-1.48,"y":-0.3,"v":2.1},{"x":-1.46,"y":-0.3,"v":2.2},{"x":-1.44,"y":-0.3,"v":2.1},{"x":-1.42,"y":-0.3,"v":1.9},{"x":-1.4,"y":-0.3,"v":1.6},{"x":-1.38,"y":-0.3,"v":1.9},{"x":-1.36,"y":-0.3,"v":2.1},{"x":-1.34,"y":-0.3,"v":2.2},{"x":-1.32,"y":-0.3,"v":2.1},{"x":-1.3,"y":-0.3,"v":1.9},{"x":-1.28,"y":-0.3,"v":1.6},{"x":-1.26,"y":-0.3,"v":1.9},{"x":-1.24,"y":-0.3,"v":2.1},{"x":-1.22,"y":-0.3,"v":2.2},{"x":-1.2,"y":-0.3,"v":2.1},
{"x":-2.24,"y":-0.32,"v":2.5},{"x":-2.22,"y":-0.32,"v":2.45},{"x":-2.2,"y":-0.32,"v":2.3},{"x":-2.18,"y":-0.32,"v":2},{"x":-2.16,"y":-0.32,"v":2.3},{"x":-2.14,"y":-0.32,"v":2.45},{"x":-2.12,"y":-0.32,"v":2.5},{"x":-2.1,"y":-0.32,"v":2.45},{"x":-2.08,"y":-0.32,"v":2.3},{"x":-2.06,"y":-0.32,"v":2},{"x":-2.04,"y":-0.32,"v":2.3},{"x":-2.02,"y":-0.32,"v":2.45},{"x":-2,"y":-0.32,"v":2.5},{"x":-1.98,"y":-0.32,"v":2.45},{"x":-1.96,"y":-0.32,"v":2.35},{"x":-1.94,"y":-0.32,"v":2.1},{"x":-1.92,"y":-0.32,"v":2.35},{"x":-1.9,"y":-0.32,"v":2.5},{"x":-1.88,"y":-0.32,"v":2.6},{"x":-1.86,"y":-0.32,"v":2.6},{"x":-1.84,"y":-0.32,"v":2.5},{"x":-1.82,"y":-0.32,"v":2.3},{"x":-1.8,"y":-0.32,"v":2.6},{"x":-1.78,"y":-0.32,"v":2.8},{"x":-1.76,"y":-0.32,"v":2.9},{"x":-1.74,"y":-0.32,"v":2.9},{"x":-1.72,"y":-0.32,"v":2.9},{"x":-1.7,"y":-0.32,"v":2.8},{"x":-1.68,"y":-0.32,"v":2.9},{"x":-1.66,"y":-0.32,"v":2.9},{"x":-1.64,"y":-0.32,"v":2.9},{"x":-1.62,"y":-0.32,"v":2.75},{"x":-1.6,"y":-0.32,"v":2.4},{"x":-1.58,"y":-0.32,"v":2.1},{"x":-1.56,"y":-0.32,"v":2.35},{"x":-1.54,"y":-0.32,"v":2.5},{"x":-1.52,"y":-0.32,"v":2.55},{"x":-1.5,"y":-0.32,"v":2.5},{"x":-1.48,"y":-0.32,"v":2.3},{"x":-1.46,"y":-0.32,"v":2},{"x":-1.44,"y":-0.32,"v":2.3},{"x":-1.42,"y":-0.32,"v":2.45},{"x":-1.4,"y":-0.32,"v":2.5},{"x":-1.38,"y":-0.32,"v":2.45},{"x":-1.36,"y":-0.32,"v":2.3},{"x":-1.34,"y":-0.32,"v":2},{"x":-1.32,"y":-0.32,"v":2.3},{"x":-1.3,"y":-0.32,"v":2.45},{"x":-1.28,"y":-0.32,"v":2.5},{"x":-1.26,"y":-0.32,"v":2.45},{"x":-1.24,"y":-0.32,"v":2.3},{"x":-1.22,"y":-0.32,"v":2},{"x":-1.2,"y":-0.32,"v":2.3},
{"x":-2.24,"y":-0.34,"v":3.3},{"x":-2.22,"y":-0.34,"v":3.5},{"x":-2.2,"y":-0.34,"v":3.8},{"x":-2.18,"y":-0.34,"v":4},{"x":-2.16,"y":-0.34,"v":3.9},{"x":-2.14,"y":-0.34,"v":3.5},{"x":-2.12,"y":-0.34,"v":3.4},{"x":-2.1,"y":-0.34,"v":3.5},{"x":-2.08,"y":-0.34,"v":3.9},{"x":-2.06,"y":-0.34,"v":4},{"x":-2.04,"y":-0.34,"v":3.9},{"x":-2.02,"y":-0.34,"v":3.5},{"x":-2,"y":-0.34,"v":3.5},{"x":-1.98,"y":-0.34,"v":3.6},{"x":-1.96,"y":-0.34,"v":4},{"x":-1.94,"y":-0.34,"v":4.3},{"x":-1.92,"y":-0.34,"v":4},{"x":-1.9,"y":-0.34,"v":3.7},{"x":-1.88,"y":-0.34,"v":3.7},{"x":-1.86,"y":-0.34,"v":4},{"x":-1.84,"y":-0.34,"v":4.4},{"x":-1.82,"y":-0.34,"v":4.5},{"x":-1.8,"y":-0.34,"v":4.2},{"x":-1.78,"y":-0.34,"v":4},{"x":-1.76,"y":-0.34,"v":4.8},{"x":-1.74,"y":-0.34,"v":5},{"x":-1.72,"y":-0.34,"v":5},{"x":-1.7,"y":-0.34,"v":4.4},{"x":-1.68,"y":-0.34,"v":4.2},{"x":-1.66,"y":-0.34,"v":4},{"x":-1.64,"y":-0.34,"v":3.9},{"x":-1.62,"y":-0.34,"v":4.3},{"x":-1.6,"y":-0.34,"v":4.2},{"x":-1.58,"y":-0.34,"v":4.4},{"x":-1.56,"y":-0.34,"v":4.3},{"x":-1.54,"y":-0.34,"v":3.7},{"x":-1.52,"y":-0.34,"v":3.6},{"x":-1.5,"y":-0.34,"v":3.8},{"x":-1.48,"y":-0.34,"v":3.9},{"x":-1.46,"y":-0.34,"v":4.1},{"x":-1.44,"y":-0.34,"v":3.9},{"x":-1.42,"y":-0.34,"v":3.6},{"x":-1.4,"y":-0.34,"v":3.5},{"x":-1.38,"y":-0.34,"v":3.6},{"x":-1.36,"y":-0.34,"v":4},{"x":-1.34,"y":-0.34,"v":4.2},{"x":-1.32,"y":-0.34,"v":4},{"x":-1.3,"y":-0.34,"v":3.6},{"x":-1.28,"y":-0.34,"v":3.5},{"x":-1.26,"y":-0.34,"v":3.7},{"x":-1.24,"y":-0.34,"v":4},{"x":-1.22,"y":-0.34,"v":4.1},{"x":-1.2,"y":-0.34,"v":4},
{"x":-2.24,"y":-0.36,"v":4.2},{"x":-2.22,"y":-0.36,"v":4.1},{"x":-2.2,"y":-0.36,"v":4},{"x":-2.18,"y":-0.36,"v":4},{"x":-2.16,"y":-0.36,"v":4},{"x":-2.14,"y":-0.36,"v":4.2},{"x":-2.12,"y":-0.36,"v":4.4},{"x":-2.1,"y":-0.36,"v":4.3},{"x":-2.08,"y":-0.36,"v":4.2},{"x":-2.06,"y":-0.36,"v":4},{"x":-2.04,"y":-0.36,"v":4.1},{"x":-2.02,"y":-0.36,"v":4.3},{"x":-2,"y":-0.36,"v":4.4},{"x":-1.98,"y":-0.36,"v":4.4},{"x":-1.96,"y":-0.36,"v":4.3},{"x":-1.94,"y":-0.36,"v":4.2},{"x":-1.92,"y":-0.36,"v":4.4},{"x":-1.9,"y":-0.36,"v":4.6},{"x":-1.88,"y":-0.36,"v":4.6},{"x":-1.86,"y":-0.36,"v":4.6},{"x":-1.84,"y":-0.36,"v":4.5},{"x":-1.82,"y":-0.36,"v":4.6},{"x":-1.8,"y":-0.36,"v":4.8},{"x":-1.78,"y":-0.36,"v":5},{"x":-1.76,"y":-0.36,"v":5.6},{"x":-1.74,"y":-0.36,"v":5.7},{"x":-1.72,"y":-0.36,"v":5.5},{"x":-1.7,"y":-0.36,"v":5.4},{"x":-1.68,"y":-0.36,"v":5.5},{"x":-1.66,"y":-0.36,"v":5.3},{"x":-1.64,"y":-0.36,"v":5.1},{"x":-1.62,"y":-0.36,"v":4.9},{"x":-1.6,"y":-0.36,"v":4.6},{"x":-1.58,"y":-0.36,"v":4.5},{"x":-1.56,"y":-0.36,"v":4.6},{"x":-1.54,"y":-0.36,"v":4.7},{"x":-1.52,"y":-0.36,"v":4.6},{"x":-1.5,"y":-0.36,"v":4.4},{"x":-1.48,"y":-0.36,"v":4.3},{"x":-1.46,"y":-0.36,"v":4.4},{"x":-1.44,"y":-0.36,"v":4.4},{"x":-1.42,"y":-0.36,"v":4.6},{"x":-1.4,"y":-0.36,"v":4.5},{"x":-1.38,"y":-0.36,"v":4.2},{"x":-1.36,"y":-0.36,"v":4},{"x":-1.34,"y":-0.36,"v":4.1},{"x":-1.32,"y":-0.36,"v":4.2},{"x":-1.3,"y":-0.36,"v":4.4},{"x":-1.28,"y":-0.36,"v":4.3},{"x":-1.26,"y":-0.36,"v":4.2},{"x":-1.24,"y":-0.36,"v":4.3},{"x":-1.22,"y":-0.36,"v":4.2},{"x":-1.2,"y":-0.36,"v":4.2},
{"x":-2.24,"y":-0.38,"v":3.9},{"x":-2.22,"y":-0.38,"v":4},{"x":-2.2,"y":-0.38,"v":4.2},{"x":-2.18,"y":-0.38,"v":4.3},{"x":-2.16,"y":-0.38,"v":4.2},{"x":-2.14,"y":-0.38,"v":4},{"x":-2.12,"y":-0.38,"v":3.8},{"x":-2.1,"y":-0.38,"v":3.9},{"x":-2.08,"y":-0.38,"v":4.3},{"x":-2.06,"y":-0.38,"v":4.4},{"x":-2.04,"y":-0.38,"v":4.3},{"x":-2.02,"y":-0.38,"v":4},{"x":-2,"y":-0.38,"v":4},{"x":-1.98,"y":-0.38,"v":4.2},{"x":-1.96,"y":-0.38,"v":4.4},{"x":-1.94,"y":-0.38,"v":4.5},{"x":-1.92,"y":-0.38,"v":4.4},{"x":-1.9,"y":-0.38,"v":4.3},{"x":-1.88,"y":-0.38,"v":4.5},{"x":-1.86,"y":-0.38,"v":4.8},{"x":-1.84,"y":-0.38,"v":5},{"x":-1.82,"y":-0.38,"v":5},{"x":-1.8,"y":-0.38,"v":5.1},{"x":-1.78,"y":-0.38,"v":5.2},{"x":-1.76,"y":-0.38,"v":5.4},{"x":-1.74,"y":-0.38,"v":5.7},{"x":-1.72,"y":-0.38,"v":5.8},{"x":-1.7,"y":-0.38,"v":5.5},{"x":-1.68,"y":-0.38,"v":5},{"x":-1.66,"y":-0.38,"v":5},{"x":-1.64,"y":-0.38,"v":4.9},{"x":-1.62,"y":-0.38,"v":5},{"x":-1.6,"y":-0.38,"v":4.6},{"x":-1.58,"y":-0.38,"v":4.7},{"x":-1.56,"y":-0.38,"v":4.6},{"x":-1.54,"y":-0.38,"v":4.3},{"x":-1.52,"y":-0.38,"v":4.3},{"x":-1.5,"y":-0.38,"v":4.4},{"x":-1.48,"y":-0.38,"v":4.4},{"x":-1.46,"y":-0.38,"v":4.4},{"x":-1.44,"y":-0.38,"v":4.3},{"x":-1.42,"y":-0.38,"v":4.2},{"x":-1.4,"y":-0.38,"v":4.3},{"x":-1.38,"y":-0.38,"v":4.4},{"x":-1.36,"y":-0.38,"v":4.2},{"x":-1.34,"y":-0.38,"v":4.6},{"x":-1.32,"y":-0.38,"v":4.4},{"x":-1.3,"y":-0.38,"v":4.2},{"x":-1.28,"y":-0.38,"v":3.9},{"x":-1.26,"y":-0.38,"v":4.1},{"x":-1.24,"y":-0.38,"v":4.3},{"x":-1.22,"y":-0.38,"v":4.3},{"x":-1.2,"y":-0.38,"v":4.3},
{"x":-2.24,"y":-0.4,"v":2.9},{"x":-2.22,"y":-0.4,"v":2.8},{"x":-2.2,"y":-0.4,"v":2.5},{"x":-2.18,"y":-0.4,"v":2.3},{"x":-2.16,"y":-0.4,"v":2.5},{"x":-2.14,"y":-0.4,"v":2.8},{"x":-2.12,"y":-0.4,"v":2.9},{"x":-2.1,"y":-0.4,"v":2.8},{"x":-2.08,"y":-0.4,"v":2.5},{"x":-2.06,"y":-0.4,"v":2.3},{"x":-2.04,"y":-0.4,"v":2.5},{"x":-2.02,"y":-0.4,"v":2.8},{"x":-2,"y":-0.4,"v":2.9},{"x":-1.98,"y":-0.4,"v":2.8},{"x":-1.96,"y":-0.4,"v":2.55},{"x":-1.94,"y":-0.4,"v":2.35},{"x":-1.92,"y":-0.4,"v":2.6},{"x":-1.9,"y":-0.4,"v":2.9},{"x":-1.88,"y":-0.4,"v":3},{"x":-1.86,"y":-0.4,"v":3},{"x":-1.84,"y":-0.4,"v":2.7},{"x":-1.82,"y":-0.4,"v":2.6},{"x":-1.8,"y":-0.4,"v":2.9},{"x":-1.78,"y":-0.4,"v":3.2},{"x":-1.76,"y":-0.4,"v":3.5},{"x":-1.74,"y":-0.4,"v":3.4},{"x":-1.72,"y":-0.4,"v":3.2},{"x":-1.7,"y":-0.4,"v":3.4},{"x":-1.68,"y":-0.4,"v":3.5},{"x":-1.66,"y":-0.4,"v":3.3},{"x":-1.64,"y":-0.4,"v":3.3},{"x":-1.62,"y":-0.4,"v":3.1},{"x":-1.6,"y":-0.4,"v":2.8},{"x":-1.58,"y":-0.4,"v":2.6},{"x":-1.56,"y":-0.4,"v":2.8},{"x":-1.54,"y":-0.4,"v":2.9},{"x":-1.52,"y":-0.4,"v":3},{"x":-1.5,"y":-0.4,"v":2.85},{"x":-1.48,"y":-0.4,"v":2.5},{"x":-1.46,"y":-0.4,"v":2.3},{"x":-1.44,"y":-0.4,"v":2.5},{"x":-1.42,"y":-0.4,"v":2.8},{"x":-1.4,"y":-0.4,"v":2.9},{"x":-1.38,"y":-0.4,"v":2.8},{"x":-1.36,"y":-0.4,"v":2.5},{"x":-1.34,"y":-0.4,"v":2.3},{"x":-1.32,"y":-0.4,"v":2.5},{"x":-1.3,"y":-0.4,"v":2.8},{"x":-1.28,"y":-0.4,"v":2.9},{"x":-1.26,"y":-0.4,"v":2.8},{"x":-1.24,"y":-0.4,"v":2.5},{"x":-1.22,"y":-0.4,"v":2.3},{"x":-1.2,"y":-0.4,"v":2.5},
{"x":-2.24,"y":-0.42,"v":3.7},{"x":-2.22,"y":-0.42,"v":2.9},{"x":-2.2,"y":-0.42,"v":2.8},{"x":-2.18,"y":-0.42,"v":2.7},{"x":-2.16,"y":-0.42,"v":2.8},{"x":-2.14,"y":-0.42,"v":2.9},{"x":-2.12,"y":-0.42,"v":3.7},{"x":-2.1,"y":-0.42,"v":2.9},{"x":-2.08,"y":-0.42,"v":2.8},{"x":-2.06,"y":-0.42,"v":2.7},{"x":-2.04,"y":-0.42,"v":2.8},{"x":-2.02,"y":-0.42,"v":2.9},{"x":-2,"y":-0.42,"v":3.7},{"x":-1.98,"y":-0.42,"v":3},{"x":-1.96,"y":-0.42,"v":2.85},{"x":-1.94,"y":-0.42,"v":2.75},{"x":-1.92,"y":-0.42,"v":2.85},{"x":-1.9,"y":-0.42,"v":3},{"x":-1.88,"y":-0.42,"v":3.8},{"x":-1.86,"y":-0.42,"v":3.1},{"x":-1.84,"y":-0.42,"v":3},{"x":-1.82,"y":-0.42,"v":2.95},{"x":-1.8,"y":-0.42,"v":3.05},{"x":-1.78,"y":-0.42,"v":3.3},{"x":-1.76,"y":-0.42,"v":4.6},{"x":-1.74,"y":-0.42,"v":3.5},{"x":-1.72,"y":-0.42,"v":3.3},{"x":-1.7,"y":-0.42,"v":3.2},{"x":-1.68,"y":-0.42,"v":3.3},{"x":-1.66,"y":-0.42,"v":3.6},{"x":-1.64,"y":-0.42,"v":4.5},{"x":-1.62,"y":-0.42,"v":3.2},{"x":-1.6,"y":-0.42,"v":3},{"x":-1.58,"y":-0.42,"v":2.85},{"x":-1.56,"y":-0.42,"v":2.9},{"x":-1.54,"y":-0.42,"v":3},{"x":-1.52,"y":-0.42,"v":3.8},{"x":-1.5,"y":-0.42,"v":3},{"x":-1.48,"y":-0.42,"v":2.85},{"x":-1.46,"y":-0.42,"v":2.75},{"x":-1.44,"y":-0.42,"v":2.8},{"x":-1.42,"y":-0.42,"v":2.9},{"x":-1.4,"y":-0.42,"v":3.7},{"x":-1.38,"y":-0.42,"v":2.9},{"x":-1.36,"y":-0.42,"v":2.8},{"x":-1.34,"y":-0.42,"v":2.7},{"x":-1.32,"y":-0.42,"v":2.8},{"x":-1.3,"y":-0.42,"v":2.9},{"x":-1.28,"y":-0.42,"v":3.7},{"x":-1.26,"y":-0.42,"v":2.9},{"x":-1.24,"y":-0.42,"v":2.8},{"x":-1.22,"y":-0.42,"v":2.7},{"x":-1.2,"y":-0.42,"v":2.8},
{"x":-2.24,"y":-0.44,"v":3.9},{"x":-2.22,"y":-0.44,"v":3.6},{"x":-2.2,"y":-0.44,"v":3.5},{"x":-2.18,"y":-0.44,"v":3.4},{"x":-2.16,"y":-0.44,"v":3.5},{"x":-2.14,"y":-0.44,"v":3.6},{"x":-2.12,"y":-0.44,"v":3.9},{"x":-2.1,"y":-0.44,"v":3.7},{"x":-2.08,"y":-0.44,"v":3.6},{"x":-2.06,"y":-0.44,"v":3.5},{"x":-2.04,"y":-0.44,"v":3.5},{"x":-2.02,"y":-0.44,"v":3.6},{"x":-2,"y":-0.44,"v":3.9},{"x":-1.98,"y":-0.44,"v":3.7},{"x":-1.96,"y":-0.44,"v":3.6},{"x":-1.94,"y":-0.44,"v":3.6},{"x":-1.92,"y":-0.44,"v":3.6},{"x":-1.9,"y":-0.44,"v":3.7},{"x":-1.88,"y":-0.44,"v":4},{"x":-1.86,"y":-0.44,"v":3.8},{"x":-1.84,"y":-0.44,"v":3.7},{"x":-1.82,"y":-0.44,"v":3.7},{"x":-1.8,"y":-0.44,"v":3.8},{"x":-1.78,"y":-0.44,"v":3.9},{"x":-1.76,"y":-0.44,"v":4.4},{"x":-1.74,"y":-0.44,"v":4.4},{"x":-1.72,"y":-0.44,"v":4.3},{"x":-1.7,"y":-0.44,"v":4},{"x":-1.68,"y":-0.44,"v":4},{"x":-1.66,"y":-0.44,"v":4.2},{"x":-1.64,"y":-0.44,"v":4.3},{"x":-1.62,"y":-0.44,"v":3.9},{"x":-1.6,"y":-0.44,"v":3.7},{"x":-1.58,"y":-0.44,"v":3.6},{"x":-1.56,"y":-0.44,"v":3.6},{"x":-1.54,"y":-0.44,"v":3.7},{"x":-1.52,"y":-0.44,"v":4},{"x":-1.5,"y":-0.44,"v":3.7},{"x":-1.48,"y":-0.44,"v":3.6},{"x":-1.46,"y":-0.44,"v":3.6},{"x":-1.44,"y":-0.44,"v":3.6},{"x":-1.42,"y":-0.44,"v":3.7},{"x":-1.4,"y":-0.44,"v":3.9},{"x":-1.38,"y":-0.44,"v":3.6},{"x":-1.36,"y":-0.44,"v":3.5},{"x":-1.34,"y":-0.44,"v":3.5},{"x":-1.32,"y":-0.44,"v":3.5},{"x":-1.3,"y":-0.44,"v":3.6},{"x":-1.28,"y":-0.44,"v":3.9},{"x":-1.26,"y":-0.44,"v":3.6},{"x":-1.24,"y":-0.44,"v":3.5},{"x":-1.22,"y":-0.44,"v":3.4},{"x":-1.2,"y":-0.44,"v":3.5},
{"x":-2.24,"y":-0.46,"v":3.3},{"x":-2.22,"y":-0.46,"v":3.3},{"x":-2.2,"y":-0.46,"v":3.4},{"x":-2.18,"y":-0.46,"v":3.5},{"x":-2.16,"y":-0.46,"v":3.4},{"x":-2.14,"y":-0.46,"v":3.3},{"x":-2.12,"y":-0.46,"v":3.3},{"x":-2.1,"y":-0.46,"v":3.4},{"x":-2.08,"y":-0.46,"v":3.5},{"x":-2.06,"y":-0.46,"v":3.5},{"x":-2.04,"y":-0.46,"v":3.4},{"x":-2.02,"y":-0.46,"v":3.3},{"x":-2,"y":-0.46,"v":3.3},{"x":-1.98,"y":-0.46,"v":3.4},{"x":-1.96,"y":-0.46,"v":3.5},{"x":-1.94,"y":-0.46,"v":3.5},{"x":-1.92,"y":-0.46,"v":3.4},{"x":-1.9,"y":-0.46,"v":3.4},{"x":-1.88,"y":-0.46,"v":3.5},{"x":-1.86,"y":-0.46,"v":3.5},{"x":-1.84,"y":-0.46,"v":3.5},{"x":-1.82,"y":-0.46,"v":3.6},{"x":-1.8,"y":-0.46,"v":3.7},{"x":-1.78,"y":-0.46,"v":3.9},{"x":-1.76,"y":-0.46,"v":4.3},{"x":-1.74,"y":-0.46,"v":4.4},{"x":-1.72,"y":-0.46,"v":4.4},{"x":-1.7,"y":-0.46,"v":4},{"x":-1.68,"y":-0.46,"v":3.9},{"x":-1.66,"y":-0.46,"v":3.9},{"x":-1.64,"y":-0.46,"v":3.7},{"x":-1.62,"y":-0.46,"v":3.5},{"x":-1.6,"y":-0.46,"v":3.5},{"x":-1.58,"y":-0.46,"v":3.5},{"x":-1.56,"y":-0.46,"v":3.4},{"x":-1.54,"y":-0.46,"v":3.4},{"x":-1.52,"y":-0.46,"v":3.4},{"x":-1.5,"y":-0.46,"v":3.5},{"x":-1.48,"y":-0.46,"v":3.5},{"x":-1.46,"y":-0.46,"v":3.5},{"x":-1.44,"y":-0.46,"v":3.4},{"x":-1.42,"y":-0.46,"v":3.3},{"x":-1.4,"y":-0.46,"v":3.3},{"x":-1.38,"y":-0.46,"v":3.4},{"x":-1.36,"y":-0.46,"v":3.4},{"x":-1.34,"y":-0.46,"v":3.5},{"x":-1.32,"y":-0.46,"v":3.4},{"x":-1.3,"y":-0.46,"v":3.3},{"x":-1.28,"y":-0.46,"v":3.3},{"x":-1.26,"y":-0.46,"v":3.3},{"x":-1.24,"y":-0.46,"v":3.4},{"x":-1.22,"y":-0.46,"v":3.5},{"x":-1.2,"y":-0.46,"v":3.4},
{"x":-2.24,"y":-0.48,"v":2.7},{"x":-2.22,"y":-0.48,"v":2.7},{"x":-2.2,"y":-0.48,"v":2.9},{"x":-2.18,"y":-0.48,"v":3.1},{"x":-2.16,"y":-0.48,"v":2.9},{"x":-2.14,"y":-0.48,"v":2.7},{"x":-2.12,"y":-0.48,"v":2.7},{"x":-2.1,"y":-0.48,"v":2.7},{"x":-2.08,"y":-0.48,"v":2.9},{"x":-2.06,"y":-0.48,"v":3.1},{"x":-2.04,"y":-0.48,"v":2.9},{"x":-2.02,"y":-0.48,"v":2.7},{"x":-2,"y":-0.48,"v":2.75},{"x":-1.98,"y":-0.48,"v":2.8},{"x":-1.96,"y":-0.48,"v":3},{"x":-1.94,"y":-0.48,"v":3.1},{"x":-1.92,"y":-0.48,"v":3},{"x":-1.9,"y":-0.48,"v":2.8},{"x":-1.88,"y":-0.48,"v":2.8},{"x":-1.86,"y":-0.48,"v":2.9},{"x":-1.84,"y":-0.48,"v":3},{"x":-1.82,"y":-0.48,"v":3.2},{"x":-1.8,"y":-0.48,"v":3.2},{"x":-1.78,"y":-0.48,"v":3.3},{"x":-1.76,"y":-0.48,"v":3.8},{"x":-1.74,"y":-0.48,"v":3.9},{"x":-1.72,"y":-0.48,"v":3.9},{"x":-1.7,"y":-0.48,"v":3.6},{"x":-1.68,"y":-0.48,"v":3.4},{"x":-1.66,"y":-0.48,"v":3.2},{"x":-1.64,"y":-0.48,"v":3},{"x":-1.62,"y":-0.48,"v":2.9},{"x":-1.6,"y":-0.48,"v":3},{"x":-1.58,"y":-0.48,"v":3.2},{"x":-1.56,"y":-0.48,"v":3},{"x":-1.54,"y":-0.48,"v":2.85},{"x":-1.52,"y":-0.48,"v":2.8},{"x":-1.5,"y":-0.48,"v":2.8},{"x":-1.48,"y":-0.48,"v":3},{"x":-1.46,"y":-0.48,"v":3.1},{"x":-1.44,"y":-0.48,"v":2.9},{"x":-1.42,"y":-0.48,"v":2.7},{"x":-1.4,"y":-0.48,"v":2.7},{"x":-1.38,"y":-0.48,"v":2.7},{"x":-1.36,"y":-0.48,"v":2.9},{"x":-1.34,"y":-0.48,"v":3.1},{"x":-1.32,"y":-0.48,"v":2.9},{"x":-1.3,"y":-0.48,"v":2.7},{"x":-1.28,"y":-0.48,"v":2.7},{"x":-1.26,"y":-0.48,"v":2.7},{"x":-1.24,"y":-0.48,"v":2.9},{"x":-1.22,"y":-0.48,"v":3.1},{"x":-1.2,"y":-0.48,"v":2.9},
{"x":-2.24,"y":-0.5,"v":1.2},{"x":-2.22,"y":-0.5,"v":1.4},{"x":-2.2,"y":-0.5,"v":1.7},{"x":-2.18,"y":-0.5,"v":1.9},{"x":-2.16,"y":-0.5,"v":1.7},{"x":-2.14,"y":-0.5,"v":1.4},{"x":-2.12,"y":-0.5,"v":1.2},{"x":-2.1,"y":-0.5,"v":1.4},{"x":-2.08,"y":-0.5,"v":1.7},{"x":-2.06,"y":-0.5,"v":1.9},{"x":-2.04,"y":-0.5,"v":1.7},{"x":-2.02,"y":-0.5,"v":1.4},{"x":-2,"y":-0.5,"v":1.25},{"x":-1.98,"y":-0.5,"v":1.45},{"x":-1.96,"y":-0.5,"v":1.75},{"x":-1.94,"y":-0.5,"v":1.95},{"x":-1.92,"y":-0.5,"v":1.75},{"x":-1.9,"y":-0.5,"v":1.45},{"x":-1.88,"y":-0.5,"v":1.3},{"x":-1.86,"y":-0.5,"v":1.55},{"x":-1.84,"y":-0.5,"v":1.85},{"x":-1.82,"y":-0.5,"v":2},{"x":-1.8,"y":-0.5,"v":1.95},{"x":-1.78,"y":-0.5,"v":1.8},{"x":-1.76,"y":-0.5,"v":1.8},{"x":-1.74,"y":-0.5,"v":2},{"x":-1.72,"y":-0.5,"v":2.2},{"x":-1.7,"y":-0.5,"v":2.2},{"x":-1.68,"y":-0.5,"v":2.1},{"x":-1.66,"y":-0.5,"v":1.8},{"x":-1.64,"y":-0.5,"v":1.5},{"x":-1.62,"y":-0.5,"v":1.6},{"x":-1.6,"y":-0.5,"v":1.85},{"x":-1.58,"y":-0.5,"v":2},{"x":-1.56,"y":-0.5,"v":1.8},{"x":-1.54,"y":-0.5,"v":1.5},{"x":-1.52,"y":-0.5,"v":1.25},{"x":-1.5,"y":-0.5,"v":1.45},{"x":-1.48,"y":-0.5,"v":1.75},{"x":-1.46,"y":-0.5,"v":1.95},{"x":-1.44,"y":-0.5,"v":1.7},{"x":-1.42,"y":-0.5,"v":1.4},{"x":-1.4,"y":-0.5,"v":1.2},{"x":-1.38,"y":-0.5,"v":1.4},{"x":-1.36,"y":-0.5,"v":1.7},{"x":-1.34,"y":-0.5,"v":1.9},{"x":-1.32,"y":-0.5,"v":1.7},{"x":-1.3,"y":-0.5,"v":1.4},{"x":-1.28,"y":-0.5,"v":1.2},{"x":-1.26,"y":-0.5,"v":1.4},{"x":-1.24,"y":-0.5,"v":1.7},{"x":-1.22,"y":-0.5,"v":1.9},{"x":-1.2,"y":-0.5,"v":1.7},
{"x":-2.24,"y":-0.52,"v":1.2},{"x":-2.22,"y":-0.52,"v":1.3},{"x":-2.2,"y":-0.52,"v":1.5},{"x":-2.18,"y":-0.52,"v":1.6},{"x":-2.16,"y":-0.52,"v":1.5},{"x":-2.14,"y":-0.52,"v":1.3},{"x":-2.12,"y":-0.52,"v":1.2},{"x":-2.1,"y":-0.52,"v":1.3},{"x":-2.08,"y":-0.52,"v":1.5},{"x":-2.06,"y":-0.52,"v":1.6},{"x":-2.04,"y":-0.52,"v":1.5},{"x":-2.02,"y":-0.52,"v":1.3},{"x":-2,"y":-0.52,"v":1.2},{"x":-1.98,"y":-0.52,"v":1.3},{"x":-1.96,"y":-0.52,"v":1.5},{"x":-1.94,"y":-0.52,"v":1.65},{"x":-1.92,"y":-0.52,"v":1.5},{"x":-1.9,"y":-0.52,"v":1.35},{"x":-1.88,"y":-0.52,"v":1.3},{"x":-1.86,"y":-0.52,"v":1.4},{"x":-1.84,"y":-0.52,"v":1.6},{"x":-1.82,"y":-0.52,"v":1.7},{"x":-1.8,"y":-0.52,"v":1.7},{"x":-1.78,"y":-0.52,"v":1.7},{"x":-1.76,"y":-0.52,"v":1.8},{"x":-1.74,"y":-0.52,"v":1.9},{"x":-1.72,"y":-0.52,"v":2},{"x":-1.7,"y":-0.52,"v":2},{"x":-1.68,"y":-0.52,"v":1.95},{"x":-1.66,"y":-0.52,"v":1.8},{"x":-1.64,"y":-0.52,"v":1.6},{"x":-1.62,"y":-0.52,"v":1.6},{"x":-1.6,"y":-0.52,"v":1.65},{"x":-1.58,"y":-0.52,"v":1.7},{"x":-1.56,"y":-0.52,"v":1.5},{"x":-1.54,"y":-0.52,"v":1.35},{"x":-1.52,"y":-0.52,"v":1.25},{"x":-1.5,"y":-0.52,"v":1.3},{"x":-1.48,"y":-0.52,"v":1.5},{"x":-1.46,"y":-0.52,"v":1.6},{"x":-1.44,"y":-0.52,"v":1.5},{"x":-1.42,"y":-0.52,"v":1.3},{"x":-1.4,"y":-0.52,"v":1.2},{"x":-1.38,"y":-0.52,"v":1.3},{"x":-1.36,"y":-0.52,"v":1.5},{"x":-1.34,"y":-0.52,"v":1.6},{"x":-1.32,"y":-0.52,"v":1.5},{"x":-1.3,"y":-0.52,"v":1.3},{"x":-1.28,"y":-0.52,"v":1.2},{"x":-1.26,"y":-0.52,"v":1.3},{"x":-1.24,"y":-0.52,"v":1.5},{"x":-1.22,"y":-0.52,"v":1.6},{"x":-1.2,"y":-0.52,"v":1.5}],
"bar":[{"v":0.01},{"v":0.1},{"v":0.19},{"v":0.29},{"v":0.38},{"v":0.47},{"v":0.56},{"v":0.66},{"v":0.75},{"v":0.84},{"v":0.93},{"v":1.03},{"v":1.12},{"v":1.21},{"v":1.3},{"v":1.4},{"v":1.49},{"v":1.58},{"v":1.67},{"v":1.77},{"v":1.86},{"v":1.95},{"v":2.04},{"v":2.14},{"v":2.23},{"v":2.32},{"v":2.41},{"v":2.51},{"v":2.6},{"v":2.69},{"v":2.78},{"v":2.88},{"v":2.97},{"v":3.06},{"v":3.15},{"v":3.25},{"v":3.34},{"v":3.43},{"v":3.52},{"v":3.62},{"v":3.71},{"v":3.8},{"v":3.89},{"v":3.99},{"v":4.08},{"v":4.17},{"v":4.26},{"v":4.36},{"v":4.45},{"v":4.54},{"v":4.63},{"v":4.73},{"v":4.82},{"v":4.91},{"v":5},{"v":5.1},{"v":5.19},{"v":5.28},{"v":5.37},{"v":5.47},{"v":5.56},{"v":5.65},{"v":5.74},{"v":5.84}]},
"hconcat":[{"width":684,"height":644,"title":{"text":"Local Power Density [mW/cm²]","fontSize":25,"fontWeight":"normal","font":"Liberation Sans","color":"#222222","anchor":"middle","offset":16,"dx":-3},
"encoding":{"x":{"field":"x","type":"quantitative","scale":{"domain":[-2.245,-1.205],"nice":false,"zero":false},"axis":{"title":"X coordinate [cm]","titleX":338,"values":[-2.2,-2,-1.8,-1.6,-1.4],"labelExpr":"replace(format(datum.value,'~g'),'−','-')","tickSize":0,"labelPadding":6,"titlePadding":7}},"y":{"field":"y","type":"quantitative","scale":{"domain":[-0.714,0.279],"nice":false,"zero":false},"axis":{"title":"Y coordinate [cm]","values":[0.2,0.1,0,-0.1,-0.2,-0.3,-0.4,-0.5,-0.6,-0.7],"labelExpr":"replace(format(datum.value,'~g'),'−','-')","tickSize":0,"labelPadding":10,"titlePadding":13}},"color":{"field":"v","type":"quantitative","legend":null,"scale":{"domain":[-0.037,0.703,2.182,3.661,5.14,5.88],"range":["#00008f","#0000ff","#00ffff","#ffff00","#ff0000","#800000"]}}},
"layer":[{"data":{"name":"top"},"mark":{"type":"rect","width":81,"height":53,"clip":true}},{"data":{"name":"mid"},"mark":{"type":"rect","width":27.5,"height":27.5,"clip":true}},{"data":{"name":"band"},"mark":{"type":"rect","width":14,"height":14,"clip":true}}]},
{"width":50,"height":644,"data":{"name":"bar"},
"encoding":{"x":{"datum":0,"type":"quantitative","scale":{"domain":[-1,1]},"axis":null},"color":{"field":"v","type":"quantitative","legend":null,"scale":{"domain":[-0.037,0.703,2.182,3.661,5.14,5.88],"range":["#00008f","#0000ff","#00ffff","#ffff00","#ff0000","#800000"]}}},
"layer":[{"mark":{"type":"rect","width":50,"height":11,"clip":true},"encoding":{"y":{"field":"v","type":"quantitative","scale":{"domain":[-0.037,5.88],"nice":false,"zero":false},"axis":{"title":null,"orient":"right","values":[0,1,2,3,4,5],"tickSize":-6,"tickColor":"#111111","labelPadding":8,"labelFontSize":22}}}},{"mark":{"type":"rect","width":50,"height":11,"clip":true},"encoding":{"y":{"field":"v","type":"quantitative","scale":{"domain":[-0.037,5.88],"nice":false,"zero":false},"axis":{"title":null,"orient":"left","values":[0,1,2,3,4,5],"tickSize":-6,"tickColor":"#111111","labels":false}}}}],"resolve":{"axis":{"y":"independent"}}}]}
